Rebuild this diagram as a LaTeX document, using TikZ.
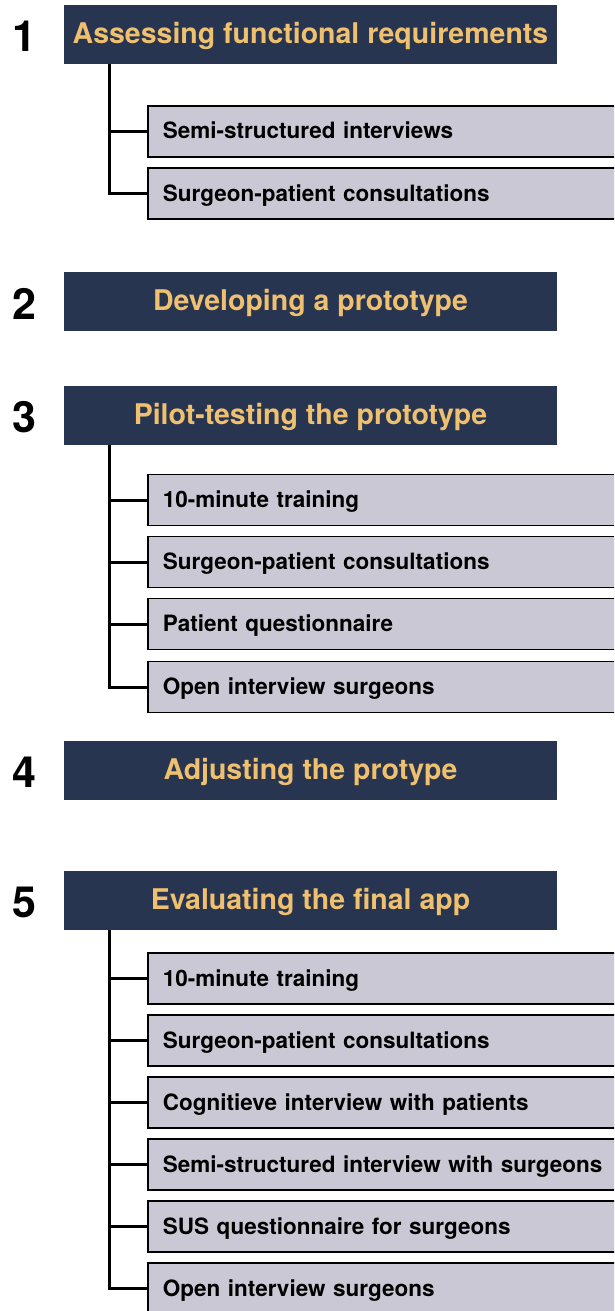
\documentclass[tikz,border=0pt]{standalone}
\usepackage{fontspec}
\setmainfont{TeX Gyre Heros}
\usepackage{tikz}
\usetikzlibrary{positioning}
\definecolor{navy}{RGB}{40,53,80}
\definecolor{gold}{RGB}{238,192,112}
\definecolor{lilac}{RGB}{202,200,212}

\tikzset{
  phase/.style={fill=navy, text=gold, inner sep=0pt,
    minimum width=493pt, minimum height=59pt,
    text height=20pt, text depth=2.4pt,
    font=\bfseries\fontsize{28.5}{34}\selectfont},
  num/.style={font=\bfseries\fontsize{43}{50}\selectfont},
  task/.style={draw, line width=1.8pt, fill=lilac, anchor=west,
    minimum height=51pt, text width=470pt, inner xsep=15pt, align=left,
    text height=17pt, text depth=2pt,
    font=\bfseries\fontsize{22.5}{27}\selectfont},
  trunk/.style={line width=3pt}
}

\begin{document}
\begin{tikzpicture}[x=1pt,y=-1pt]
  \clip (0,0) rectangle (614,1311);
  % the five phases
  \foreach \n/\y/\t in {1/34.5/Assessing functional requirements,
      2/301.5/Developing a prototype,
      3/415.5/Pilot-testing the prototype,
      4/770.5/Adjusting the protype,
      5/900.5/Evaluating the final app}{
    \node[phase] (p\n) at (310.5,\y) {\t};
    \node[num] (n\n) at (24,\y+2) {\n};}
  % methods per phase
  \foreach \s/\i/\y/\t in {1/1/131.5/Semi-structured interviews,
      1/2/193.5/Surgeon-patient consultations,
      3/1/500/10-minute training,
      3/2/562/Surgeon-patient consultations,
      3/3/624/Patient questionnaire,
      3/4/687/Open interview surgeons,
      5/1/978.5/10-minute training,
      5/2/1040.5/Surgeon-patient consultations,
      5/3/1102.5/Cognitieve interview with patients,
      5/4/1164.5/Semi-structured interview with surgeons,
      5/5/1226.5/SUS questionnaire for surgeons,
      5/6/1288.5/Open interview surgeons}{
    \node[task] (t\s\i) at (147,\y) {\t};}
  % connecting lines
  \foreach \s/\k in {1/2,3/4,5/6}{
    \coordinate (r\s) at ([xshift=46pt]p\s.south west);
    \draw[trunk] (r\s) |- (t\s\k.west);
    \foreach \i in {1,...,\k}
      \draw[trunk] (r\s |- t\s\i.west) -- (t\s\i.west);}
\end{tikzpicture}
\end{document}
